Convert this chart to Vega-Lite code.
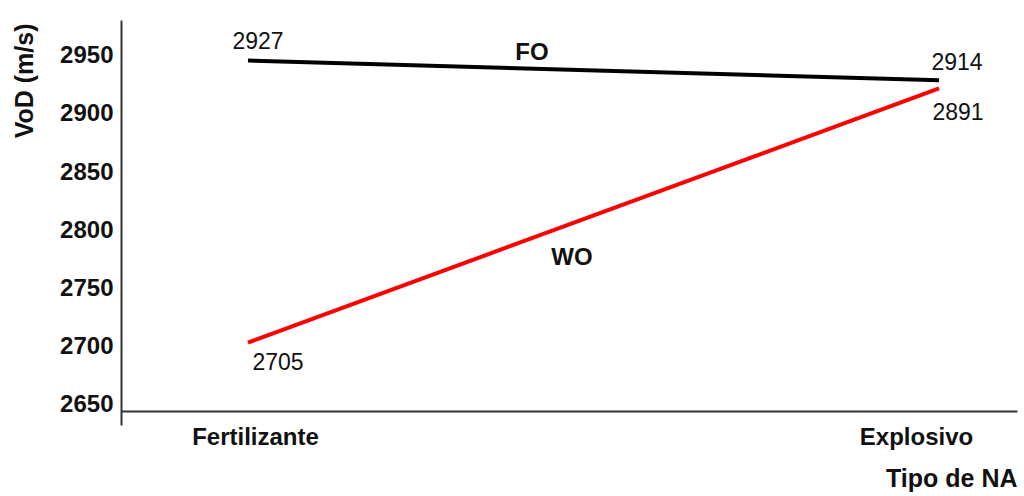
{
  "$schema": "https://vega.github.io/schema/vega-lite/v6.json",
  "autosize": {"type": "none"},
  "width": 896,
  "height": 405,
  "padding": {"left": 121, "top": 20, "right": 7, "bottom": 71},
  "background": "white",
  "config": {
    "view": {"stroke": null},
    "font": "Liberation Sans",
    "text": {"font": "Liberation Sans", "color": "#111"}
  },
  "data": {
    "values": [
      {"tipo": "Fertilizante", "serie": "FO", "vod": 2946, "etiqueta": "2927"},
      {"tipo": "Explosivo", "serie": "FO", "vod": 2929, "etiqueta": "2914"},
      {"tipo": "Fertilizante", "serie": "WO", "vod": 2703, "etiqueta": "2705"},
      {"tipo": "Explosivo", "serie": "WO", "vod": 2922, "etiqueta": "2891"}
    ]
  },
  "encoding": {
    "x": {
      "field": "tipo",
      "type": "nominal",
      "sort": ["Fertilizante", "Explosivo"],
      "scale": {"type": "point", "domain": ["Fertilizante", "Explosivo"], "padding": 0.1483, "align": 0.6195},
      "axis": {
        "title": "Tipo de NA",
        "offset": -14,
        "ticks": false,
        "grid": false,
        "domainColor": "#333",
        "domainWidth": 2,
        "labelAngle": 0,
        "labelFont": "Liberation Sans",
        "labelFontWeight": "bold",
        "labelFontSize": 24,
        "labelColor": "#111",
        "labelPadding": 14,
        "labelBaseline": "top",
        "labelOffset": {"condition": {"test": "datum.value === 'Explosivo'", "value": -23}, "value": 7},
        "titleFont": "Liberation Sans",
        "titleFontWeight": "bold",
        "titleFontSize": 25,
        "titleColor": "#111",
        "titleAnchor": "end",
        "titleAlign": "right",
        "titleBaseline": "middle",
        "titleX": 896,
        "titleY": 67
      }
    },
    "y": {
      "field": "vod",
      "type": "quantitative",
      "scale": {"domain": [2632, 2981], "nice": false, "zero": false},
      "axis": {
        "title": "VoD (m/s)",
        "values": [2650, 2700, 2750, 2800, 2850, 2900, 2950],
        "format": "d",
        "ticks": false,
        "grid": false,
        "domainColor": "#333",
        "domainWidth": 2,
        "labelFont": "Liberation Sans",
        "labelFontWeight": "bold",
        "labelFontSize": 24,
        "labelColor": "#111",
        "labelPadding": 8,
        "titleFont": "Liberation Sans",
        "titleFontWeight": "bold",
        "titleFontSize": 25,
        "titleColor": "#111",
        "titleAngle": -90,
        "titleAnchor": "end",
        "titleAlign": "right",
        "titleBaseline": "middle",
        "titleX": -97,
        "titleY": 3
      }
    }
  },
  "layer": [
    {
      "mark": {"type": "line", "strokeWidth": 4},
      "encoding": {
        "color": {
          "field": "serie",
          "type": "nominal",
          "scale": {"domain": ["FO", "WO"], "range": ["#000000", "#ff0000"]},
          "legend": null
        }
      }
    },
    {
      "transform": [{"filter": "datum.etiqueta === '2927'"}],
      "mark": {"type": "text", "fontSize": 23, "dx": 10, "dy": -19, "baseline": "middle", "align": "center"},
      "encoding": {"text": {"field": "etiqueta"}}
    },
    {
      "transform": [{"filter": "datum.etiqueta === '2914'"}],
      "mark": {"type": "text", "fontSize": 23, "dx": 18, "dy": -17, "baseline": "middle", "align": "center"},
      "encoding": {"text": {"field": "etiqueta"}}
    },
    {
      "transform": [{"filter": "datum.etiqueta === '2891'"}],
      "mark": {"type": "text", "fontSize": 23, "dx": 19, "dy": 25, "baseline": "middle", "align": "center"},
      "encoding": {"text": {"field": "etiqueta"}}
    },
    {
      "transform": [{"filter": "datum.etiqueta === '2705'"}],
      "mark": {"type": "text", "fontSize": 23, "dx": 30, "dy": 20, "baseline": "middle", "align": "center"},
      "encoding": {"text": {"field": "etiqueta"}}
    },
    {
      "transform": [{"filter": "datum.serie === 'FO' && datum.tipo === 'Fertilizante'"}],
      "mark": {"type": "text", "fontSize": 24, "fontWeight": "bold", "dx": 284, "dy": -8, "baseline": "middle", "align": "center"},
      "encoding": {"text": {"field": "serie"}}
    },
    {
      "transform": [{"filter": "datum.serie === 'WO' && datum.tipo === 'Fertilizante'"}],
      "mark": {"type": "text", "fontSize": 24, "fontWeight": "bold", "dx": 324, "dy": -85, "baseline": "middle", "align": "center"},
      "encoding": {"text": {"field": "serie"}}
    }
  ]
}
